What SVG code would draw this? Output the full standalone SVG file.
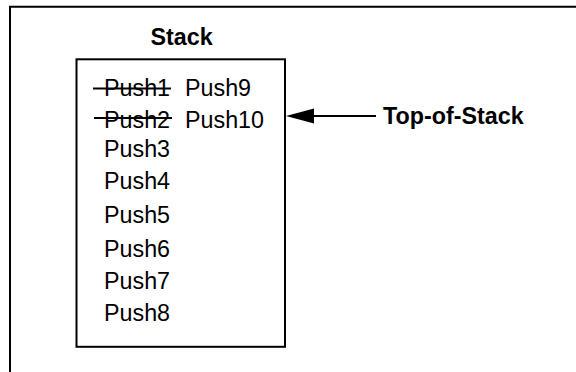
<svg xmlns="http://www.w3.org/2000/svg" width="576" height="372" viewBox="0 0 576 372">
  <style>
    .lbl { font-family: "Liberation Sans", Arial, sans-serif; font-size: 23.3px; fill: #000; }
    .bold { font-weight: bold; }
    .frame { fill: none; stroke: #000; stroke-width: 2; }
    .strike { stroke: #000; stroke-width: 2; }
  </style>
  <rect width="576" height="372" fill="#fff"/>
  <g id="frame">
    <path class="frame" d="M10,373 V6.7 H577"/>
  </g>
  <g id="stack">
    <text class="lbl bold" x="150.5" y="44.5">Stack</text>
    <rect class="frame" x="76.5" y="59.3" width="208.5" height="287.5"/>
    <text class="lbl" x="104" y="96">Push1</text>
    <line class="strike" x1="93" y1="88.5" x2="171" y2="88.5"/>
    <text class="lbl" x="185" y="96">Push9</text>
    <text class="lbl" x="104" y="127.5">Push2</text>
    <line class="strike" x1="94" y1="118" x2="172" y2="118"/>
    <text class="lbl" x="185" y="127.5">Push10</text>
    <text class="lbl" x="104" y="157">Push3</text>
    <text class="lbl" x="104" y="189">Push4</text>
    <text class="lbl" x="104" y="223">Push5</text>
    <text class="lbl" x="104" y="257">Push6</text>
    <text class="lbl" x="104" y="289">Push7</text>
    <text class="lbl" x="104" y="321">Push8</text>
  </g>
  <g id="top-of-stack">
    <text class="lbl bold" x="383" y="123.5">Top-of-Stack</text>
  </g>
  <g id="connectors">
    <line x1="312" y1="116" x2="376" y2="116" stroke="#000" stroke-width="2"/>
    <polygon points="286,116 314,108.5 314,123.5" fill="#000"/>
  </g>
</svg>
